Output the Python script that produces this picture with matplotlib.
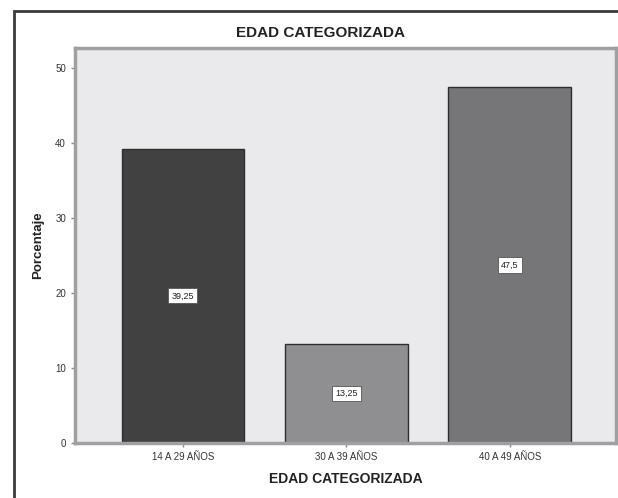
import matplotlib.pyplot as plt
from matplotlib.patches import Rectangle

plt.rcParams['font.family'] = ['Liberation Sans', 'DejaVu Sans']

categorias = ['14 A 29 AÑOS', '30 A 39 AÑOS', '40 A 49 AÑOS']
porcentajes = [39.25, 13.25, 47.5]
etiquetas = ['39,25', '13,25', '47,5']
colores = ['#414141', '#8f8f91', '#767678']

W, H = 618, 498
fig = plt.figure(figsize=(W / 100, H / 100), dpi=100)

# marco exterior
fig.patches.append(Rectangle((14 / W, -0.1), 1.2, 1 - 11 / H + 0.1,
                             transform=fig.transFigure, fill=False,
                             edgecolor='#3a3a3a', linewidth=2))

ax = fig.add_axes([75 / W, 1 - 443 / H, (616 - 75) / W, (443 - 48) / H])
ax.set_facecolor('#eaeaec')

x = range(len(categorias))
ax.bar(x, porcentajes, width=0.75, color=colores, edgecolor='#2e2e2e', linewidth=1)

for xi, v, t in zip(x, porcentajes, etiquetas):
    ax.text(xi, v / 2, t, ha='center', va='center', fontsize=6.5, color='#222222',
            bbox=dict(boxstyle='square,pad=0.35', facecolor='white',
                      edgecolor='#555555', linewidth=0.6))

ax.set_xlim(-0.66, 2.65)
ax.set_ylim(0, 52.67)
ax.set_yticks([0, 10, 20, 30, 40, 50])
ax.set_xticks(list(x))
ax.set_xticklabels(categorias)
ax.tick_params(axis='both', labelsize=7, colors='#888888', labelcolor='#333333',
               length=3, width=1)

for s in ax.spines.values():
    s.set_color('#a0a0a2')
    s.set_linewidth(2.5)

ax.set_ylabel('Porcentaje', fontsize=9.5, fontweight='bold', color='#222222', labelpad=8)
ax.set_xlabel('EDAD CATEGORIZADA', fontsize=10, fontweight='bold', color='#222222', labelpad=7)
fig.text(321 / W, 1 - 33 / H, 'EDAD CATEGORIZADA', ha='center', va='center',
         fontsize=11, fontweight='bold', color='#222222')

fig.savefig('out.png', dpi=100, facecolor='white')
